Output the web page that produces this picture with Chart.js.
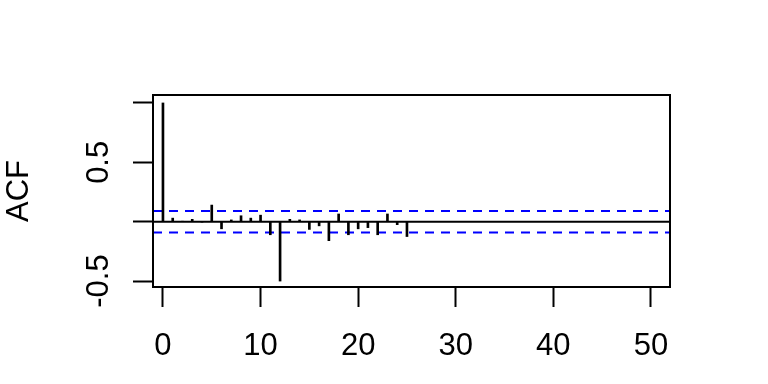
<!DOCTYPE html>
<html>
<head>
<meta charset="utf-8">
<script src="https://cdn.jsdelivr.net/npm/chart.js@4.4.1/dist/chart.umd.min.js"></script>
<style>
html,body{margin:0;padding:0;background:#fff;}
#wrap{width:768px;height:384px;position:relative;}
</style>
</head>
<body>
<div id="wrap"><canvas id="c" width="768" height="384"></canvas></div>
<script>
// ---- data ----
const lags = [0,1,2,3,4,5,6,7,8,9,10,11,12,13,14,15,16,17,18,19,20,21,22,23,24,25];
const acfValues = [1.0,0.03,0.004,0.02,-0.004,0.14,-0.06,0.015,0.05,0.03,0.055,-0.11,-0.50,0.02,0.015,-0.065,-0.035,-0.16,0.065,-0.11,-0.06,-0.05,-0.11,0.065,-0.025,-0.125];
const ciBound = 0.09;
const xTicks = [0,10,20,30,40,50];
const yTicks = [-0.5,0,0.5,1];
const yTickLabels = ['-0.5','','0.5',''];
const yTitle = 'ACF';

const X_MIN = -1.02, X_MAX = 51.95;
const Y_MIN = -0.55, Y_MAX = 1.067;
const FONT = '"Liberation Sans", Arial, sans-serif';
const FSIZE = 31;

const barData = lags.map((l,i)=>({x:l,y:acfValues[i]}));
const hLine = v => [{x:X_MIN,y:v},{x:X_MAX,y:v}];

const boxPlugin = {
  id:'box',
  afterDraw(chart){
    const {ctx, chartArea:a} = chart;
    ctx.save();
    ctx.strokeStyle='#000';
    ctx.lineWidth=2;
    ctx.strokeRect(a.left,a.top,a.right-a.left,a.bottom-a.top);
    // rotated y tick labels (R style)
    const ys = chart.scales.y;
    ctx.fillStyle='#000';
    ctx.font = FSIZE+'px '+FONT;
    ctx.textAlign='center';
    ctx.textBaseline='middle';
    yTicks.forEach((v,i)=>{
      const t = yTickLabels[i];
      if(!t) return;
      const py = ys.getPixelForValue(v);
      ctx.save();
      ctx.translate(99, py);
      ctx.rotate(-Math.PI/2);
      ctx.fillText(t,0,0);
      ctx.restore();
    });
    ctx.restore();
  }
};

new Chart(document.getElementById('c'), {
  type:'bar',
  data:{
    datasets:[
      {type:'line', data:hLine(0), borderColor:'#000', borderWidth:2, pointRadius:0, order:3},
      {type:'line', data:hLine(ciBound), borderColor:'#0000FF', borderWidth:2, borderDash:[9,7], pointRadius:0, order:2},
      {type:'line', data:hLine(-ciBound), borderColor:'#0000FF', borderWidth:2, borderDash:[9,7], pointRadius:0, order:2},
      {type:'bar', data:barData, backgroundColor:'#000', borderWidth:0, barThickness:2, order:1}
    ]
  },
  options:{
    responsive:false,
    animation:false,
    events:[],
    layout:{padding:{left:0,right:98,top:95,bottom:0}},
    plugins:{legend:{display:false}, tooltip:{enabled:false}},
    scales:{
      x:{
        type:'linear', min:X_MIN, max:X_MAX, offset:false,
        afterBuildTicks(s){ s.ticks = xTicks.map(v=>({value:v})); },
        afterFit(s){ s.height = 97; },
        border:{display:false},
        grid:{display:true, offset:false, drawOnChartArea:false, drawTicks:true, tickLength:20, tickWidth:2, tickColor:'#000'},
        ticks:{autoSkip:false, maxRotation:0, minRotation:0, padding:21, color:'#000', font:{family:FONT, size:FSIZE},
          callback:(v)=>String(v)}
      },
      y:{
        type:'linear', min:Y_MIN, max:Y_MAX,
        afterBuildTicks(s){ s.ticks = yTicks.map(v=>({value:v})); },
        afterFit(s){ s.width = 153; },
        border:{display:false},
        grid:{display:true, drawOnChartArea:false, drawTicks:true, tickLength:20, tickWidth:2, tickColor:'#000'},
        ticks:{display:false},
        title:{display:true, text:yTitle, color:'#000', font:{family:FONT, size:FSIZE}, padding:{top:1,bottom:0}}
      }
    }
  },
  plugins:[boxPlugin]
});
</script>
</body>
</html>
